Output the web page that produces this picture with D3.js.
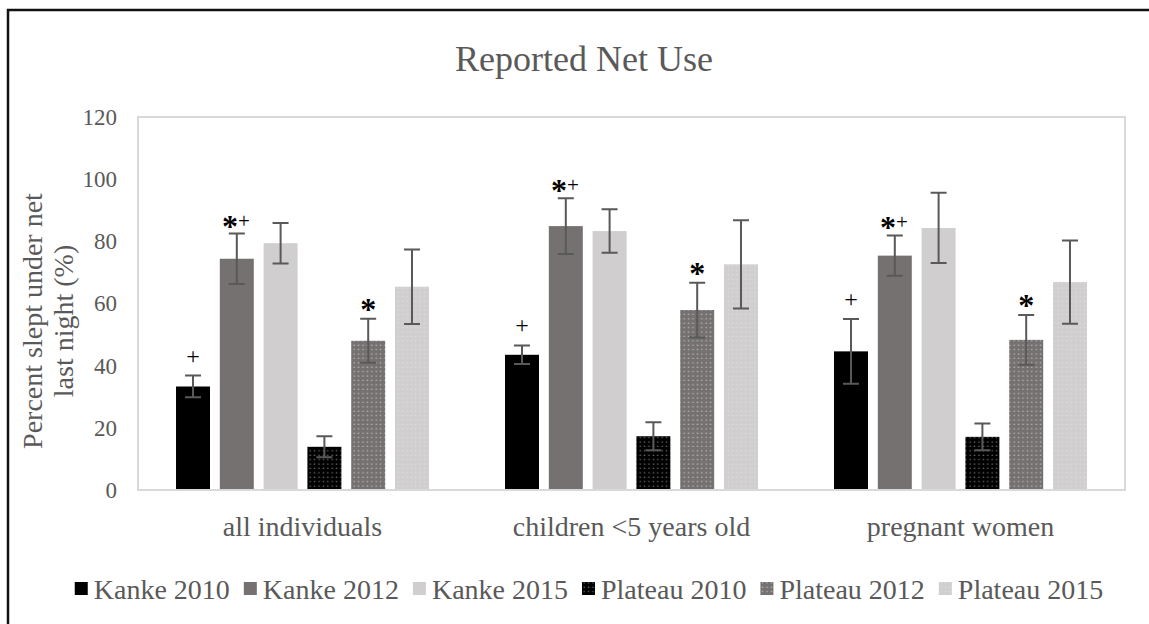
<!DOCTYPE html>
<html>
<head>
<meta charset="utf-8">
<script src="https://cdn.jsdelivr.net/npm/d3@7"></script>
<style>
  html, body { margin: 0; padding: 0; background: #fff; }
  svg { display: block; font-family: "Liberation Serif", "Times New Roman", serif; }
</style>
</head>
<body>
<svg id="chart" width="1149" height="624"></svg>
<script>
// Survey groups and series
const categories = ["all individuals", "children <5 years old", "pregnant women"];
const seriesNames = ["Kanke 2010", "Kanke 2012", "Kanke 2015", "Plateau 2010", "Plateau 2012", "Plateau 2015"];

// Percent who slept under a net last night, per series (one value per group)
const kanke2010 = [33.3, 43.5, 44.6];
const kanke2012 = [74.4, 84.9, 75.4];
const kanke2015 = [79.4, 83.3, 84.3];
const plateau2010 = [13.9, 17.3, 17.1];
const plateau2012 = [48.0, 57.9, 48.3];
const plateau2015 = [65.4, 72.6, 66.9];

// Half-width of the error bars
const kanke2010Err = [3.5, 3.0, 10.4];
const kanke2012Err = [8.1, 9.0, 6.5];
const kanke2015Err = [6.5, 7.0, 11.3];
const plateau2010Err = [3.4, 4.5, 4.3];
const plateau2012Err = [7.1, 8.8, 8.0];
const plateau2015Err = [12.0, 14.2, 13.4];

// Significance marks shown above each series' bars ("" = none)
const seriesMarks = ["+", "*+", "", "", "*", ""];

const yTicks = [0, 20, 40, 60, 80, 100, 120];
const chartTitle = "Reported Net Use";
const yTitleLines = ["Percent slept under net", "last night (%)"];

const seriesValues = [kanke2010, kanke2012, kanke2015, plateau2010, plateau2012, plateau2015];
const seriesErrors = [kanke2010Err, kanke2012Err, kanke2015Err, plateau2010Err, plateau2012Err, plateau2015Err];

const svg = d3.select("#chart");
const W = 1149, H = 624;
const plot = { left: 138, right: 1125, top: 117, bottom: 490 };

// Fills: solid greys and dotted variants
const defs = svg.append("defs");
const fills = [
  { base: "#000000" },
  { base: "#767171" },
  { base: "#d0cece" },
  { base: "#000000", dot: "#8a8a8a", id: "dotA" },
  { base: "#767171", dot: "#c9c7c7", id: "dotB" },
  { base: "#d0cece", dot: "#e3e2e2", id: "dotC" }
];
fills.forEach(f => {
  if (!f.dot) { f.paint = f.base; return; }
  const p = defs.append("pattern")
    .attr("id", f.id)
    .attr("patternUnits", "userSpaceOnUse")
    .attr("width", 4.4).attr("height", 4.4);
  p.append("rect").attr("width", 4.4).attr("height", 4.4).attr("fill", f.base);
  p.append("rect").attr("x", 1.5).attr("y", 1.5).attr("width", 1.4).attr("height", 1).attr("fill", f.dot);
  f.paint = `url(#${f.id})`;
});

// Outer chart frame (left and top edges)
svg.append("path")
  .attr("d", `M8,${H} L8,10 L${W},10`)
  .attr("fill", "none").attr("stroke", "#111").attr("stroke-width", 2.5);

// Title
svg.append("text")
  .attr("x", 584).attr("y", 71)
  .attr("text-anchor", "middle")
  .attr("font-size", 36).attr("fill", "#595959")
  .text(chartTitle);

// Scales
const y = d3.scaleLinear().domain([0, 120]).range([plot.bottom, plot.top]);
const x0 = d3.scaleBand().domain(categories).range([plot.left, plot.right]).paddingInner(0).paddingOuter(0);
const x1 = d3.scaleBand().domain(seriesNames).range([0, x0.bandwidth()]).paddingInner(0.224).paddingOuter(0.868);

// Plot area border
svg.append("rect")
  .attr("x", plot.left).attr("y", plot.top)
  .attr("width", plot.right - plot.left).attr("height", plot.bottom - plot.top)
  .attr("fill", "none").attr("stroke", "#d9d9d9").attr("stroke-width", 2);

// Y axis tick labels
const yAxis = svg.append("g")
  .attr("transform", `translate(${plot.left},0)`)
  .call(d3.axisLeft(y).tickValues(yTicks).tickSize(0).tickPadding(21).tickFormat(d3.format("d")));
yAxis.select(".domain").remove();
yAxis.selectAll("text")
  .attr("font-family", "Liberation Serif, Times New Roman, serif")
  .attr("font-size", 23).attr("fill", "#595959");

// X axis category labels
const xAxis = svg.append("g")
  .attr("transform", `translate(0,${plot.bottom})`)
  .call(d3.axisBottom(x0).tickSize(0).tickPadding(26));
xAxis.select(".domain").remove();
xAxis.selectAll("text")
  .attr("font-family", "Liberation Serif, Times New Roman, serif")
  .attr("font-size", 28).attr("fill", "#595959");

// Y axis title (two lines, rotated)
const yTitle = svg.append("text")
  .attr("transform", "translate(42,321) rotate(-90)")
  .attr("text-anchor", "middle")
  .attr("font-size", 28).attr("fill", "#595959");
yTitleLines.forEach((line, i) => {
  yTitle.append("tspan").attr("x", 0).attr("y", i * 31).text(line);
});

// Bars
const rows = [];
seriesNames.forEach((s, si) => {
  categories.forEach((c, ci) => {
    rows.push({ series: s, si, cat: c, value: seriesValues[si][ci], err: seriesErrors[si][ci], mark: seriesMarks[si] });
  });
});

const barG = svg.append("g");
barG.selectAll("rect")
  .data(rows)
  .join("rect")
  .attr("x", d => x0(d.cat) + x1(d.series))
  .attr("y", d => y(d.value))
  .attr("width", x1.bandwidth())
  .attr("height", d => y(0) - y(d.value))
  .attr("fill", d => fills[d.si].paint);

// X axis baseline drawn over the bar bottoms
svg.append("line")
  .attr("x1", plot.left).attr("x2", plot.right)
  .attr("y1", plot.bottom).attr("y2", plot.bottom)
  .attr("stroke", "#d9d9d9").attr("stroke-width", 2);

// Error bars
const cap = 8;
const errG = svg.append("g").attr("stroke", "#595959").attr("stroke-width", 2).attr("fill", "none");
rows.forEach(d => {
  const cx = x0(d.cat) + x1(d.series) + x1.bandwidth() / 2;
  const yt = y(d.value + d.err), yb = y(d.value - d.err);
  errG.append("path")
    .attr("d", `M${cx},${yt} L${cx},${yb} M${cx - cap},${yt} L${cx + cap},${yt} M${cx - cap},${yb} L${cx + cap},${yb}`);
});

// Significance marks above the error bars
const markG = svg.append("g").attr("fill", "#000");
rows.filter(d => d.mark).forEach(d => {
  const cx = x0(d.cat) + x1(d.series) + x1.bandwidth() / 2;
  const yt = y(d.value + d.err);
  if (d.mark === "+") {
    markG.append("text")
      .attr("x", cx).attr("y", yt - 19 + 7)
      .attr("text-anchor", "middle").attr("font-size", 24)
      .text("+");
  } else if (d.mark === "*") {
    markG.append("text")
      .attr("x", cx).attr("y", yt - 14 + 15)
      .attr("text-anchor", "middle").attr("font-size", 32).attr("font-weight", "bold")
      .text("*");
  } else {
    const t = markG.append("text")
      .attr("x", cx - 1).attr("y", yt - 12 + 15)
      .attr("text-anchor", "middle");
    t.append("tspan").attr("font-size", 32).attr("font-weight", "bold").text("*");
    t.append("tspan").attr("font-size", 21).attr("dy", -9).text("+");
  }
});

// Legend
const legend = svg.append("g").attr("font-size", 28).attr("fill", "#595959");
const sw = 13, swGap = 6, itemGap = 14, legendBase = 599, legendCenter = 589;
const items = seriesNames.map((s, i) => {
  const g = legend.append("g");
  g.append("rect").attr("width", sw).attr("height", sw).attr("y", legendBase - 17).attr("fill", fills[i].paint);
  const t = g.append("text").attr("x", sw + swGap).attr("y", legendBase).text(s);
  return { g, w: sw + swGap + t.node().getComputedTextLength() };
});
const total = d3.sum(items, d => d.w) + itemGap * (items.length - 1);
let lx = legendCenter - total / 2;
items.forEach(it => {
  it.g.attr("transform", `translate(${lx},0)`);
  lx += it.w + itemGap;
});
</script>
</body>
</html>
